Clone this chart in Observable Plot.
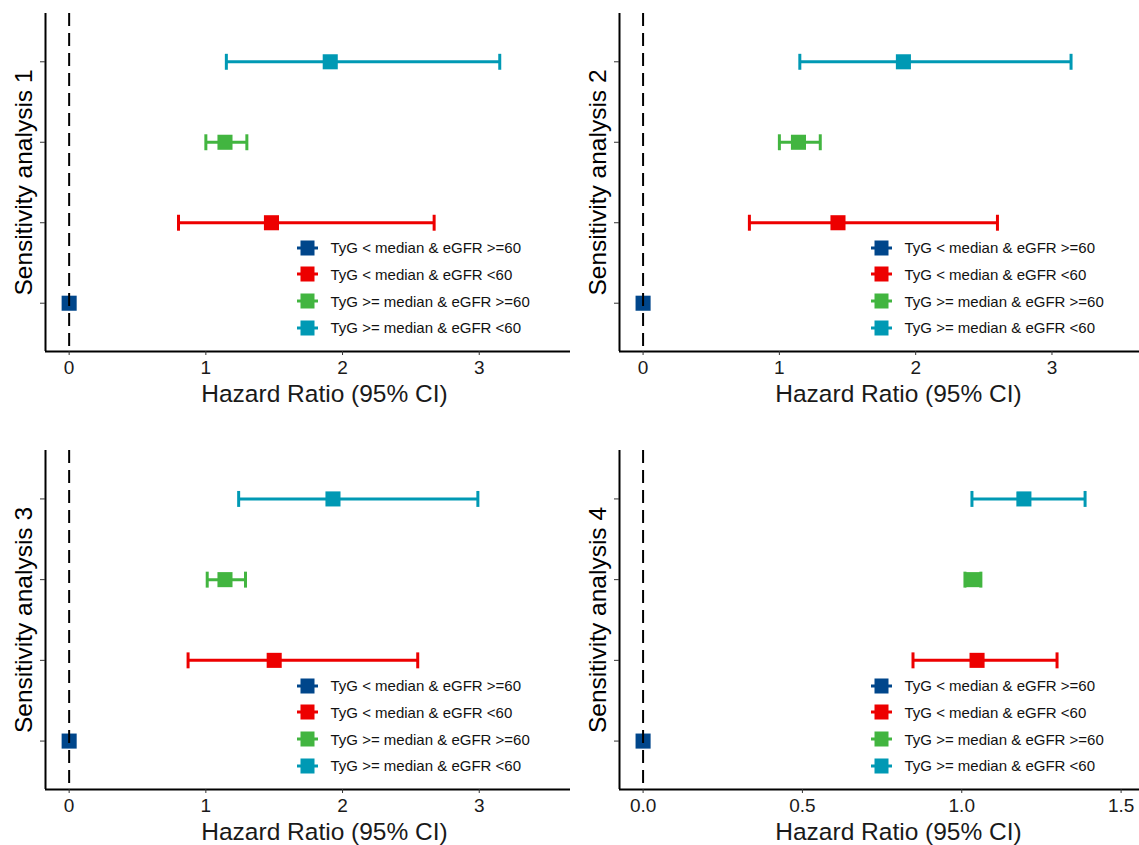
<!DOCTYPE html>
<html><head><meta charset="utf-8">
<script src="https://cdn.jsdelivr.net/npm/d3@7"></script>
<script src="https://cdn.jsdelivr.net/npm/@observablehq/plot@0.6"></script>
<style>
body{margin:0;background:#fff;}
#wrap{position:relative;width:1139px;height:845px;overflow:hidden;font-family:"Liberation Sans",Arial,Helvetica,sans-serif;}
.panel{position:absolute;overflow:hidden;}
.panel svg{max-width:none !important;display:block;}
g[aria-label="x-axis tick label"], g[aria-label="x-axis tick label"] text{font-size:19px;}
g[aria-label="x-axis label"], g[aria-label="x-axis label"] text,
g[aria-label="y-axis label"], g[aria-label="y-axis label"] text{font-size:24.5px;}
.legend{position:absolute;font-size:15px;color:#111;}
.legend .row{height:26.8px;display:flex;align-items:center;white-space:nowrap;}
.legend svg{display:block;margin-right:13px;}
</style>
</head><body>
<div id="wrap"></div>
<script>
// ---- data ----
const groups = ["TyG < median & eGFR >=60", "TyG < median & eGFR <60", "TyG >= median & eGFR >=60", "TyG >= median & eGFR <60"];
const groupColors = ["#00468B", "#ED0000", "#42B540", "#0099B4"];
const groupRank = [1, 2, 3, 4]; // row position, counted from the bottom
const panelTitles = ["Sensitivity analysis 1", "Sensitivity analysis 2", "Sensitivity analysis 3", "Sensitivity analysis 4"];
const xTitle = "Hazard Ratio (95% CI)";

const hr1 = [0, 1.48, 1.14, 1.91];
const lo1 = [null, 0.80, 1.00, 1.15];
const hi1 = [null, 2.67, 1.30, 3.15];

const hr2 = [0, 1.43, 1.14, 1.91];
const lo2 = [null, 0.78, 1.00, 1.15];
const hi2 = [null, 2.60, 1.30, 3.14];

const hr3 = [0, 1.50, 1.14, 1.93];
const lo3 = [null, 0.87, 1.01, 1.24];
const hi3 = [null, 2.55, 1.29, 2.99];

const hr4 = [0, 1.048, 1.034, 1.195];
const lo4 = [null, 0.847, 1.01, 1.032];
const hi4 = [null, 1.299, 1.06, 1.387];

const xTicksA = [0, 1, 2, 3];
const xTicksB = [0, 0.5, 1.0, 1.5];

// ---- layout ----
// each panel's plotting area is 558 px wide but the right part of it is cropped, as in the reference
const yDomain = [0.4, 4.6];
const capSymbol = {draw(ctx, size) { const h = Math.sqrt(size) / 2; ctx.moveTo(0, -h); ctx.lineTo(0, h); }};

const panels = [
  {hr: hr1, lo: lo1, hi: hi1, left: 0,   top: 0,   clipW: 570, width: 603, height: 422, ml: 45, mt: 13, mb: 71, xDomain: [-0.173, 3.909], ticks: xTicksA, fmt: d3.format("d")},
  {hr: hr2, lo: lo2, hi: hi2, left: 570, top: 0,   clipW: 569, width: 607, height: 422, ml: 49, mt: 13, mb: 71, xDomain: [-0.173, 3.921], ticks: xTicksA, fmt: d3.format("d")},
  {hr: hr3, lo: lo3, hi: hi3, left: 0,   top: 422, clipW: 570, width: 603, height: 423, ml: 45, mt: 28, mb: 56, xDomain: [-0.173, 3.909], ticks: xTicksA, fmt: d3.format("d")},
  {hr: hr4, lo: lo4, hi: hi4, left: 570, top: 422, clipW: 569, width: 607, height: 423, ml: 49, mt: 28, mb: 56, xDomain: [-0.074, 1.677], ticks: xTicksB, fmt: d3.format(".1f")}
];

const wrap = document.getElementById("wrap");

panels.forEach((p, k) => {
  const rows = groups.map((g, i) => ({group: g, pos: groupRank[i], hr: p.hr[i], lo: p.lo[i], hi: p.hi[i]}));
  const ci = rows.filter(d => d.lo != null);
  const chart = Plot.plot({
    width: p.width, height: p.height,
    marginLeft: p.ml, marginRight: 0, marginTop: p.mt, marginBottom: p.mb,
    x: {domain: p.xDomain},
    y: {domain: yDomain},
    color: {domain: groups, range: groupColors},
    style: {fontFamily: "Liberation Sans, Arial, Helvetica, sans-serif", background: "transparent", maxWidth: "none"},
    marks: [
      Plot.ruleY(ci, {y: "pos", x1: "lo", x2: "hi", stroke: "group", strokeWidth: 3}),
      Plot.dot(ci, {x: "lo", y: "pos", symbol: capSymbol, r: 9, stroke: "group", strokeWidth: 3, fill: "none"}),
      Plot.dot(ci, {x: "hi", y: "pos", symbol: capSymbol, r: 9, stroke: "group", strokeWidth: 3, fill: "none"}),
      Plot.dot(rows, {x: "hr", y: "pos", symbol: "square", r: 8.5, fill: "group"}),
      Plot.ruleX([0], {stroke: "#000", strokeWidth: 2, strokeDasharray: "13,7"}),
      Plot.ruleX([p.xDomain[0]], {stroke: "#000", strokeWidth: 2}),
      Plot.ruleY([yDomain[0]], {stroke: "#000", strokeWidth: 2}),
      Plot.axisX({ticks: p.ticks, tickFormat: p.fmt, tickSize: 4, tickPadding: 5, stroke: "#333", fill: "#1a1a1a", fontSize: 19,
        label: xTitle, labelAnchor: "center", labelOffset: 50, labelArrow: "none"}),
      Plot.axisY({ticks: groupRank, tickFormat: () => "", tickSize: 5, stroke: "#333", fill: "#000",
        label: panelTitles[k], labelAnchor: "center", labelOffset: 31, labelArrow: "none"})
    ]
  });
  const holder = document.createElement("div");
  holder.className = "panel";
  holder.style.left = p.left + "px";
  holder.style.top = p.top + "px";
  holder.style.width = p.clipW + "px";
  holder.style.height = p.height + "px";
  holder.appendChild(chart);
  wrap.appendChild(holder);

  // legend (inside the plot area, lower right)
  const leg = document.createElement("div");
  leg.className = "legend";
  leg.style.left = (p.left + p.ml + 251.5) + "px";
  leg.style.top = (p.top + p.height - p.mb - 116.8) + "px";
  groups.forEach((g, i) => {
    const row = document.createElement("div");
    row.className = "row";
    row.innerHTML = `<svg width="21" height="16"><line x1="0" x2="21" y1="8" y2="8" stroke="${groupColors[i]}" stroke-width="3"/><rect x="3.5" y="0.5" width="14" height="15" fill="${groupColors[i]}"/></svg><span>${g.replace(/&/g, "&amp;").replace(/</g, "&lt;").replace(/>/g, "&gt;")}</span>`;
    leg.appendChild(row);
  });
  wrap.appendChild(leg);
});
</script>
</body></html>
